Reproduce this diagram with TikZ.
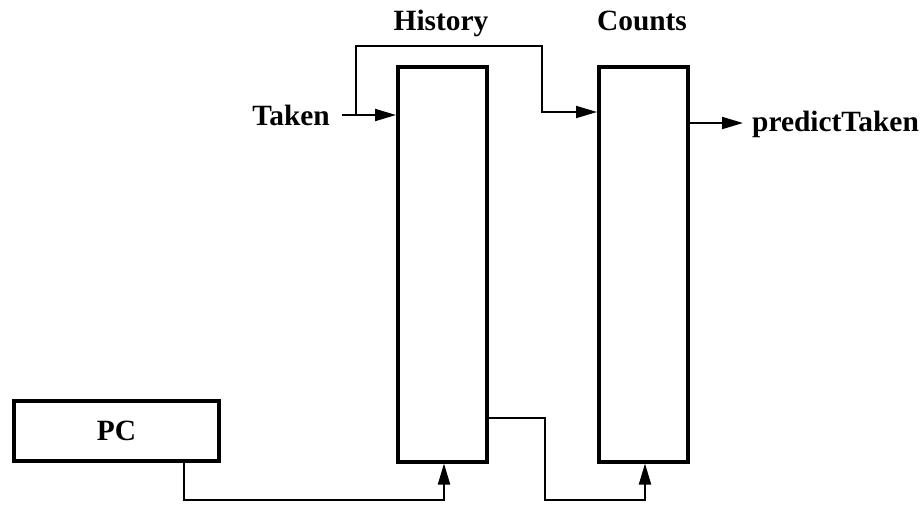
\documentclass[tikz,border=0pt]{standalone}
\usepackage{fontspec}
\setmainfont{Liberation Serif}
\usetikzlibrary{arrows.meta}
\begin{document}
\begin{tikzpicture}[x=1pt,y=-1pt,
  lab/.style={font=\fontsize{29.4}{31}\selectfont\bfseries, inner sep=0pt},
  blk/.style={draw, line width=4pt, inner sep=0pt},
  wire/.style={line width=2pt},
  arr/.style={wire, -{Triangle[length=21pt,width=12pt]}}]
\useasboundingbox (0,0) rectangle (924,504);
% blocks
\node[blk, minimum width=89pt, minimum height=395pt] (hist) at (442.5,264) {};
\node[blk, minimum width=89pt, minimum height=395pt] (cnt) at (643.5,264) {};
\node[blk, minimum width=205pt, minimum height=60pt, lab] (pc) at (116.5,431) {PC};
% labels
\node[lab, anchor=base] (hl) at (441,30) {History};
\node[lab, anchor=base] (cl) at (642,30) {Counts};
\node[lab, anchor=east] (taken) at (330,115) {Taken};
\node[lab, anchor=base west] (pt) at (752,131) {predictTaken};
% coordinates
\coordinate (tk) at (356,115);
\coordinate (pin) at (743,123);
% connectors
\draw[arr] ([xshift=12pt]taken.east) -- (taken.east -| hist.west);
\draw[arr] (tk) -- (356,46) -- (542,46) -- (542,112) -- (cnt.west |- 0,112);
\draw[arr] (cnt.east |- pin) -- (pin);
\draw[arr] (pc.south -| 184,0) -- (184,500) -- (444,500) -- (hist.south -| 444,0);
\draw[arr] (hist.east |- 0,418) -- (545,418) -- (545,500) -- (645,500) -- (cnt.south -| 645,0);
\end{tikzpicture}
\end{document}
